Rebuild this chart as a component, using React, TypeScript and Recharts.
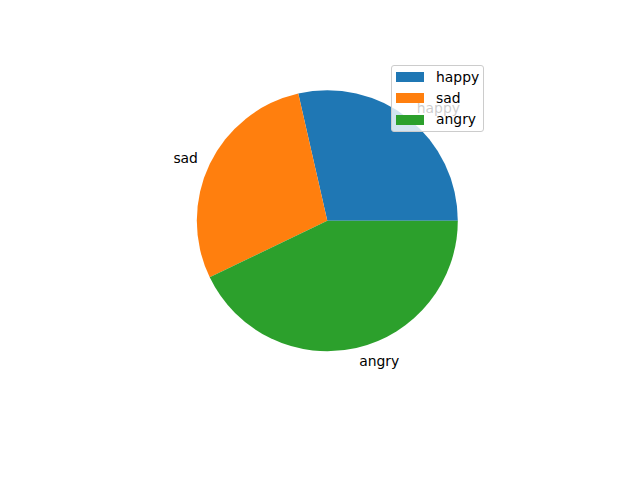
import { PieChart, Pie, Cell, Legend } from "recharts";

const labels = ["happy", "sad", "angry"];
const values = [2, 2, 3];
const colors = ["#1f77b4", "#ff7f0e", "#2ca02c"];

const data = labels.map((name, i) => ({ name, value: values[i] }));

const FONT = "DejaVu Sans, sans-serif";
const RAD = Math.PI / 180;

function renderLabel(props: any) {
  const { cx, cy, midAngle, outerRadius, name } = props;
  const r = outerRadius * 1.1;
  const cos = Math.cos(-midAngle * RAD);
  const x = cx + r * cos;
  const y = cy + r * Math.sin(-midAngle * RAD);
  return (
    <text
      x={x}
      y={y}
      fill="#000"
      fontSize={13.9}
      fontFamily={FONT}
      textAnchor={cos >= 0 ? "start" : "end"}
      dominantBaseline="central"
    >
      {name}
    </text>
  );
}

function LegendBox() {
  return (
    <div
      style={{
        position: "relative",
        boxSizing: "border-box",
        width: 93,
        height: 67,
        background: "rgba(255,255,255,0.8)",
        border: "1px solid #cccccc",
        borderRadius: 3,
        fontFamily: FONT,
        fontSize: 13.9,
        color: "#000",
      }}
    >
      {labels.map((name, i) => (
        <div key={name}>
          <div
            style={{
              position: "absolute",
              left: 4,
              top: 6 + i * 21.3,
              width: 28,
              height: 10,
              background: colors[i],
            }}
          />
          <div
            style={{
              position: "absolute",
              left: 44,
              top: 10.5 + i * 21.3 - 9,
              lineHeight: "18px",
              whiteSpace: "nowrap",
            }}
          >
            {name}
          </div>
        </div>
      ))}
    </div>
  );
}

export default function App() {
  return (
    <div style={{ position: "absolute", left: 0, top: 0, width: 640, height: 480, background: "#fff" }}>
      <PieChart width={640} height={480} margin={{ top: 0, right: 0, bottom: 0, left: 0 }}>
        <Pie
          data={data}
          dataKey="value"
          nameKey="name"
          cx={327.3}
          cy={220.7}
          outerRadius={130.5}
          startAngle={0}
          endAngle={360}
          stroke="none"
          label={renderLabel}
          labelLine={false}
          isAnimationActive={false}
        >
          {data.map((d, i) => (
            <Cell key={d.name} fill={colors[i]} />
          ))}
        </Pie>
        <Legend
          content={() => <LegendBox />}
          wrapperStyle={{ position: "absolute", left: 391, top: 65, width: 93, height: 67 }}
        />
      </PieChart>
    </div>
  );
}
